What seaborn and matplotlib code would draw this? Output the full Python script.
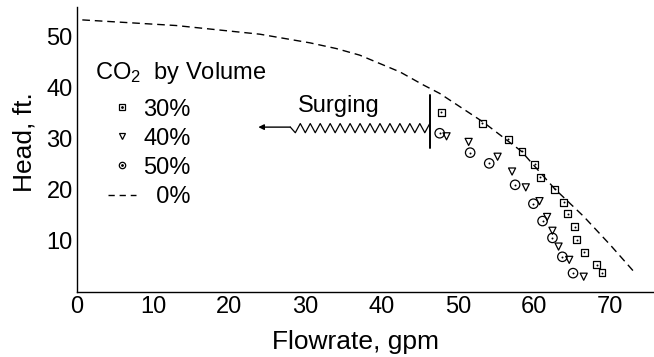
import numpy as np
import pandas as pd
import seaborn as sns
import matplotlib.pyplot as plt
from matplotlib.lines import Line2D


# pump head vs flow with CO2 gas entrainment
flow_30 = [47.8, 53.2, 56.6, 58.4, 60.1, 60.8, 62.7, 63.9, 64.4, 65.3, 65.6, 66.6, 68.2, 68.9]
head_30 = [35.2, 33.1, 29.9, 27.6, 25.0, 22.5, 20.1, 17.6, 15.3, 12.8, 10.2, 7.8, 5.3, 3.8]

flow_40 = [48.5, 51.4, 55.2, 57.1, 58.9, 60.7, 61.7, 62.4, 63.2, 64.6, 66.5]
head_40 = [30.5, 29.4, 26.5, 23.6, 20.5, 17.8, 14.7, 12.0, 8.9, 6.3, 3.0]

flow_50 = [47.6, 51.6, 54.1, 57.5, 59.9, 61.1, 62.4, 63.7, 65.1]
head_50 = [31.1, 27.3, 25.2, 21.0, 17.3, 13.9, 10.6, 6.9, 3.7]

# single-phase (0%) curve
flow_0 = [0.7, 13.0, 24.0, 30.6, 34.0, 37.1, 42.4, 45.4, 47.6, 53.3, 58.3, 62.7, 66.5, 70.0, 73.2]
head_0 = [53.3, 52.2, 50.5, 48.8, 47.7, 46.4, 43.1, 40.6, 38.9, 33.3, 27.6, 20.2, 14.8, 9.2, 3.8]

x_ticks = [0, 10, 20, 30, 40, 50, 60, 70]
y_ticks = [10, 20, 30, 40, 50]

series = [
    ("30%", flow_30, head_30, "s", 25, True),
    ("40%", flow_40, head_40, "v", 26, False),
    ("50%", flow_50, head_50, "o", 46, True),
]

sns.set_style("white")
plt.rcParams["font.family"] = ["Liberation Sans", "DejaVu Sans"]
plt.rcParams["mathtext.fontset"] = "custom"
plt.rcParams["mathtext.rm"] = "Liberation Sans"
plt.rcParams["mathtext.default"] = "rm"
plt.rcParams["text.color"] = "black"
plt.rcParams["axes.labelcolor"] = "black"

fig = plt.figure(figsize=(6.54, 3.57), dpi=100)
ax = fig.add_axes([0.1177, 0.182, 0.882, 0.798])

curve = pd.DataFrame({"flow": flow_0, "head": head_0})
sns.lineplot(data=curve, x="flow", y="head", ax=ax, color="black",
             linewidth=1.0, linestyle=(0, (5.5, 3.5)))

for label, fx, hy, mk, size, dot in series:
    df = pd.DataFrame({"flow": fx, "head": hy})
    sns.scatterplot(data=df, x="flow", y="head", ax=ax, marker=mk, s=size,
                    facecolor="none", edgecolor="black", linewidth=0.9)
    if dot:
        sns.scatterplot(data=df, x="flow", y="head", ax=ax, marker="o", s=2,
                        color="black", linewidth=0)

# surging annotation
y_s = 32.3
x0, x1 = 28.0, 46.3
n = 14
zx = np.linspace(x0, x1, 2 * n + 1)
zy = np.where(np.arange(2 * n + 1) % 2 == 0, y_s + 0.7, y_s - 1.1)
zy[0] = y_s
ax.plot(zx, zy, color="black", linewidth=0.9)
ax.plot([x1, x1], [28.2, 38.6], color="black", linewidth=1.4)
ax.annotate("", xy=(23.8, y_s), xytext=(x0, y_s),
            arrowprops=dict(arrowstyle="-|>", color="black", lw=1.0,
                            mutation_scale=8, shrinkA=0, shrinkB=0))
ax.text(34.3, 35.3, "Surging", ha="center", va="baseline", fontsize=17)

# legend
handles = [
    (Line2D([], [], marker="s", ls="none", mfc="none", mec="black", ms=4.3, mew=0.9),
     Line2D([], [], marker="o", ls="none", color="black", ms=1.0)),
    Line2D([], [], marker="v", ls="none", mfc="none", mec="black", ms=4.5, mew=0.9),
    (Line2D([], [], marker="o", ls="none", mfc="none", mec="black", ms=4.6, mew=0.9),
     Line2D([], [], marker="o", ls="none", color="black", ms=1.0)),
    Line2D([], [], color="black", lw=1.0, ls=(0, (4.5, 3.5))),
]
labels = ["30%", "40%", "50%", "  0%"]
ax.legend(handles, labels, loc="upper left", bbox_to_anchor=(0.0535, 0.679),
          frameon=False, fontsize=17, handlelength=1.2, handletextpad=0.3,
          labelspacing=0.3, borderpad=0, borderaxespad=0)
ax.text(0.0312, 0.768, "CO$_2$  by Volume", transform=ax.transAxes,
        ha="left", va="center", fontsize=17)

ax.set_xlim(0, 75.7)
ax.set_ylim(0, 55.8)
ax.set_xticks(x_ticks)
ax.set_yticks(y_ticks)
ax.tick_params(direction="in", length=4, width=1, labelsize=17, pad=3,
               colors="black")
sns.despine(ax=ax)
for side in ["left", "bottom"]:
    ax.spines[side].set_color("black")
    ax.spines[side].set_linewidth(1.0)

ax.set_xlabel("Flowrate, gpm", fontsize=19)
ax.set_ylabel("Head, ft.", fontsize=19)
ax.xaxis.set_label_coords(0.482, -0.135)
ax.yaxis.set_label_coords(-0.071, 0.526)

fig.savefig("out.png", dpi=100)
